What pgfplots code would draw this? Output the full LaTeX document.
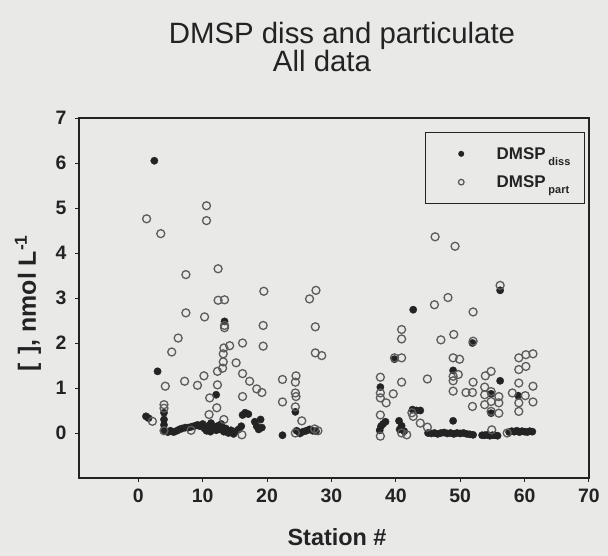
\documentclass[border=0pt]{standalone}
\usepackage{pgfplots}
\pgfplotsset{compat=1.18}
\usepackage{fontspec}
\setmainfont{Liberation Sans}
\definecolor{paper}{RGB}{233,234,232}
\definecolor{ink}{RGB}{35,35,35}
\definecolor{ring}{RGB}{92,92,92}

% dissolved DMSP (filled dots)
\pgfplotstableread{
x y
1.2 0.37
1.6 0.33
2.5 6.05
3.0 1.37
4.0 0.45
4.0 0.30
4.0 0.18
4.1 0.05
4.6 0.02
5.0 0.05
5.5 0.02
6.0 0.05
6.4 0.08
6.8 0.10
7.3 0.12
7.8 0.12
8.3 0.14
8.8 0.16
9.2 0.18
9.6 0.15
10.0 0.20
10.3 0.10
10.6 0.05
10.9 0.16
11.2 0.03
11.5 0.10
11.8 0.14
12.1 0.06
12.4 0.16
12.7 0.08
13.0 0.12
13.3 0.03
13.6 0.10
14.0 0.00
14.4 0.06
14.8 -0.02
15.2 0.04
15.6 0.08
16.0 0.15
16.2 0.40
16.6 0.45
17.1 0.42
12.1 0.85
13.4 2.48
11.3 0.22
12.9 0.20
18.1 0.25
18.4 0.15
18.7 0.08
19.0 0.30
19.2 0.12
22.4 -0.05
24.4 0.47
24.6 0.05
25.1 -0.01
25.6 0.03
26.1 0.05
26.6 0.08
27.1 0.05
27.6 0.04
37.6 1.02
37.5 0.06
37.7 0.15
38.0 0.20
38.4 0.25
39.8 1.64
40.5 0.27
40.6 0.08
40.9 0.16
41.3 0.04
42.7 2.74
42.6 0.52
43.2 0.50
43.8 0.50
45.0 0.00
45.5 -0.01
46.0 0.00
46.5 -0.02
47.0 0.00
47.5 0.01
48.0 -0.01
48.5 0.00
49.0 -0.02
49.5 0.00
50.0 -0.01
50.5 0.00
51.0 -0.02
51.5 -0.03
52.0 -0.04
48.9 1.39
48.9 0.27
51.9 2.00
53.4 -0.05
53.8 -0.05
54.2 -0.04
54.6 -0.06
55.0 -0.05
55.4 -0.05
55.8 -0.06
54.8 0.87
54.8 0.44
56.2 1.16
56.2 3.17
57.6 0.02
58.0 0.04
58.4 0.03
58.8 0.05
59.2 0.02
59.6 0.04
60.0 0.03
60.4 0.02
60.8 0.04
61.2 0.03
59.0 0.83
}\diss

% particulate DMSP (open circles)
\pgfplotstableread{
x y
1.3 4.76
3.5 4.43
10.6 5.05
10.6 4.72
12.4 3.65
7.4 3.52
12.4 2.95
13.4 2.96
7.4 2.67
10.3 2.58
13.4 2.39
13.4 2.34
6.2 2.11
5.2 1.80
14.2 1.94
13.3 1.89
13.2 1.76
13.2 1.58
13.1 1.44
15.2 1.56
16.2 2.00
16.2 1.32
17.3 1.15
18.4 0.98
19.2 0.90
19.5 3.15
19.4 2.39
19.4 1.93
16.2 0.81
12.3 1.37
12.3 1.07
10.2 1.27
9.2 1.06
7.2 1.15
4.2 1.04
4.0 0.63
4.0 0.55
4.0 0.05
11.1 0.78
12.2 0.56
11.0 0.41
2.2 0.26
8.2 0.06
16.1 -0.04
13.3 0.30
22.4 1.19
22.4 0.69
24.5 1.27
24.4 1.13
24.4 0.89
24.5 0.81
24.4 0.58
25.4 0.27
24.4 0.00
26.6 2.98
27.6 3.17
27.5 2.36
27.5 1.78
28.5 1.72
27.4 0.09
27.9 0.05
37.6 1.24
37.6 0.89
37.6 0.78
38.5 0.67
39.6 0.87
37.6 0.40
37.6 -0.07
40.9 2.30
40.9 2.09
40.9 1.67
39.8 1.67
40.9 1.13
40.9 0.00
41.7 -0.04
42.7 0.37
42.5 0.45
43.8 0.22
44.9 0.13
46.1 4.36
49.2 4.15
46.0 2.85
48.1 3.01
47.0 2.07
49.0 2.19
44.9 1.20
48.9 1.67
49.9 1.64
52.0 2.69
52.0 2.04
48.9 1.26
48.9 1.16
49.7 1.30
48.9 0.93
50.9 0.90
51.9 0.90
52.0 1.13
51.9 0.59
53.9 1.27
54.8 1.37
53.8 1.02
53.8 0.85
53.8 0.63
54.8 0.92
54.8 0.70
54.8 0.48
56.0 0.81
56.0 0.67
56.0 0.44
54.9 0.07
56.2 3.28
57.3 0.00
58.1 0.89
59.1 1.67
60.2 1.74
61.3 1.76
59.1 1.41
60.2 1.48
59.1 1.11
61.3 1.04
60.1 0.83
59.1 0.67
61.3 0.69
59.1 0.48
}\part

\begin{document}
\begin{tikzpicture}
\path[use as bounding box, fill=paper] (-79bp,-78bp) rectangle (529bp,478bp);
\begin{axis}[
  scale only axis, width=510bp, height=360bp,
  xmin=-9.2, xmax=70, ymin=-1, ymax=7,
  xtick={0,10,...,70}, ytick={0,...,7},
  xtick pos=bottom, ytick pos=left,
  tick align=outside, major tick length=4bp,
  axis line style={ink, line width=1.1bp},
  every tick/.style={ink, line width=1bp},
  /pgf/number format/assume math mode=true,
  tick label style={font=\bfseries\fontsize{19.5}{19.5}\selectfont, text=ink},
  yticklabel style={xshift=-5bp},
  xticklabel style={yshift=-3bp},
  xlabel={Station \#},
  ylabel={[\hspace{9bp}], nmol L\textsuperscript{-1}},
  label style={text=ink},
  xlabel style={at={(axis description cs:0.506,-0.164)}, anchor=center,
    font=\bfseries\fontsize{23.5}{23.5}\selectfont},
  ylabel style={at={(axis description cs:-0.1,0.485)}, anchor=center,
    font=\bfseries\fontsize{25}{25}\selectfont},
  legend style={at={(rel axis cs:0.992,0.962)}, anchor=north east,
    draw=ink, line width=1bp, fill=none, text=ink,
    font=\bfseries\fontsize{17}{20}\selectfont,
    inner xsep=12bp, inner ysep=13bp, row sep=11bp},
  legend cell align=left,
  legend image code/.code={\path (-23bp,0) (33bp,0);
    \draw[#1,mark size=2.8bp] plot coordinates {(0bp,0bp)};},
]
\addplot[only marks, mark=*, mark size=3.7bp,
  mark options={fill=ink, draw=ink, line width=0.3bp}] table {\diss};
\addlegendentry{DMSP\,\raisebox{-6bp}{\fontsize{11}{11}\selectfont diss}}
\addplot[only marks, mark=o, mark size=4bp,
  mark options={draw=ring, line width=1.3bp}] table {\part};
\addlegendentry{DMSP\,\raisebox{-6bp}{\fontsize{11}{11}\selectfont part}}
\end{axis}
\node[anchor=base, text=ink, font=\fontsize{29.5}{30}\selectfont] at (263bp,434bp) {DMSP diss and particulate};
\node[anchor=base, text=ink, font=\fontsize{29.5}{30}\selectfont] at (243bp,406bp) {All data};
\end{tikzpicture}
\end{document}
